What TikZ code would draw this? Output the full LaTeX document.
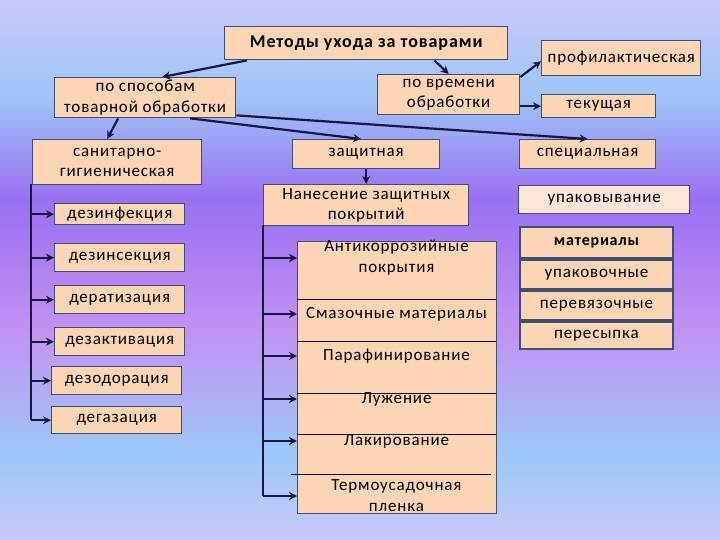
\documentclass[tikz,border=0pt]{standalone}
\usepackage{fontspec}
\setmainfont{Carlito}[LetterSpace=5]
\usetikzlibrary{arrows.meta, positioning}

\definecolor{peach}{HTML}{FCD5B4}
\definecolor{peachlt}{HTML}{FCE6D8}
\definecolor{boxline}{HTML}{3F4F6F}
\definecolor{arrowc}{HTML}{15183F}
\definecolor{bgA}{HTML}{C8C8FA}
\definecolor{bgB}{HTML}{9EC6F8}
\definecolor{bgC}{HTML}{9A6FF2}
\definecolor{bgD}{HTML}{C292F2}
\definecolor{bgE}{HTML}{9CC8F8}

\begin{document}
\begin{tikzpicture}[x=1pt, y=-1pt,
    box/.style={draw=boxline, fill=peach, line width=1.4pt, inner sep=1pt,
      align=center, anchor=north west, font=\fontsize{17}{20.5}\selectfont},
    txt/.style={inner sep=0pt, align=center, font=\fontsize{17}{21}\selectfont},
    arr/.style={-{Stealth[length=8pt,width=8pt]}, line width=2.2pt, draw=arrowc},
    trunk/.style={line width=2.2pt, draw=arrowc}
  ]
  \useasboundingbox (0,0) rectangle (720,540);

  % background
  \fill[top color=bgA, bottom color=bgB] (0,0) rectangle (720,95);
  \fill[top color=bgB, bottom color=bgC] (0,95) rectangle (720,200);
  \fill[top color=bgC, bottom color=bgD] (0,200) rectangle (720,330);
  \fill[top color=bgD, bottom color=bgE] (0,330) rectangle (720,455);
  \fill[top color=bgE, bottom color=bgA] (0,455) rectangle (720,540);

  % top level
  \node[box, minimum width=283pt, minimum height=33pt, font=\bfseries\fontsize{18}{20}\selectfont]
    (title) at (224,26) {Методы ухода за товарами};
  \node[box, minimum width=181pt, minimum height=40pt] (sposob) at (54,77)
    {по способам\\товарной обработки};
  \node[box, minimum width=142pt, minimum height=40pt] (vrem) at (377,74)
    {по времени\\обработки};
  \node[box, minimum width=159pt, minimum height=35pt] (prof) at (541,40) {профилактическая};
  \node[box, minimum width=114pt, minimum height=23pt] (tek) at (541,94) {текущая};

  % second level
  \node[box, minimum width=169pt, minimum height=45pt] (san) at (32,139)
    {санитарно-\\гигиеническая};
  \node[box, minimum width=147pt, minimum height=29pt] (zasch) at (292,139) {защитная};
  \node[box, minimum width=136pt, minimum height=29pt] (spec) at (519,139) {специальная};

  % sanitary branch
  \node[box, minimum width=130pt, minimum height=21pt] (dezinf) at (54,203) {дезинфекция};
  \node[box, minimum width=130pt, minimum height=28pt] (dezins) at (54,243) {дезинсекция};
  \node[box, minimum width=130pt, minimum height=28pt] (derat) at (54,285) {дератизация};
  \node[box, minimum width=130pt, minimum height=28pt] (dezakt) at (54,327) {дезактивация};
  \node[box, minimum width=130pt, minimum height=28pt] (dezod) at (51,366) {дезодорация};
  \node[box, minimum width=130pt, minimum height=27pt] (degaz) at (51,406) {дегазация};

  % protective branch
  \node[box, minimum width=205pt, minimum height=41pt] (nanes) at (263,184)
    {Нанесение защитных\\покрытий};
  \node[box, line width=1.2pt, minimum width=199pt, minimum height=272pt] (cover) at (297,241) {};
  \draw[line width=0.7pt] (297,299) -- (496,299);
  \draw[line width=0.7pt] (297,341) -- (496,341);
  \draw[line width=0.7pt] (297,393) -- (496,393);
  \draw[line width=0.7pt] (297,434) -- (496,434);
  \draw[line width=0.7pt] (291,474) -- (491,474);
  \node[txt] (anti) at (396.5,258) {Антикоррозийные\\покрытия};
  \node[txt] (smaz) at (396.5,314) {Смазочные материалы};
  \node[txt] (paraf) at (396.5,356) {Парафинирование};
  \node[txt] (luzh) at (396.5,399) {Лужение};
  \node[txt] (lak) at (396.5,441) {Лакирование};
  \node[txt] (termo) at (396.5,496) {Термоусадочная\\пленка};

  % special branch
  \node[box, fill=peachlt, minimum width=171pt, minimum height=28pt] (upak) at (518,185) {упаковывание};
  \node[box, line width=2pt, minimum width=153pt, minimum height=31pt, font=\bfseries\fontsize{16}{18}\selectfont]
    (mat) at (519,226) {материалы};
  \node[box, line width=2pt, minimum width=153pt, minimum height=29pt, below=0pt of mat.south west, anchor=north west]
    (upch) {упаковочные};
  \node[box, line width=2pt, minimum width=153pt, minimum height=29pt, below=0pt of upch.south west, anchor=north west]
    (perev) {перевязочные};
  \node[box, line width=2pt, minimum width=153pt, minimum height=27pt, below=0pt of perev.south west, anchor=north west]
    (peres) {пересыпка};

  % arrows from top
  \draw[arr] ([xshift=23pt]title.south west) -- ([xshift=17pt]sposob.north);
  \draw[arr] ([xshift=-74pt]title.south east) -- (vrem.north);
  \draw[arr] ([yshift=-3pt]vrem.north east) -- ([yshift=-3pt]prof.west);
  \draw[arr] (vrem.east |- tek.west) -- (tek.west);
  \draw[arr] ([xshift=-27pt]sposob.south) -- ([xshift=-10pt]san.north);
  \draw[arr] ([yshift=3pt]sposob.south east) -- (spec.north);
  \draw[arr] ([xshift=45pt]sposob.south) -- ([xshift=-5pt]zasch.north);
  \draw[arr] (zasch.south) -- (nanes.north);

  % left trunk
  \coordinate (ltop) at (31,184);
  \draw[trunk] (ltop) -- (ltop |- degaz.west);
  \foreach \n in {dezinf, dezins, derat, dezakt, dezod, degaz}
    \draw[arr] (ltop |- \n.west) -- (\n.west);

  % middle trunk
  \coordinate (mtop) at (263,225);
  \draw[trunk] (mtop) -- (mtop |- termo);
  \foreach \n in {anti, smaz, paraf, luzh, lak, termo}
    \draw[arr] (mtop |- \n) -- (cover.west |- \n);
\end{tikzpicture}
\end{document}
